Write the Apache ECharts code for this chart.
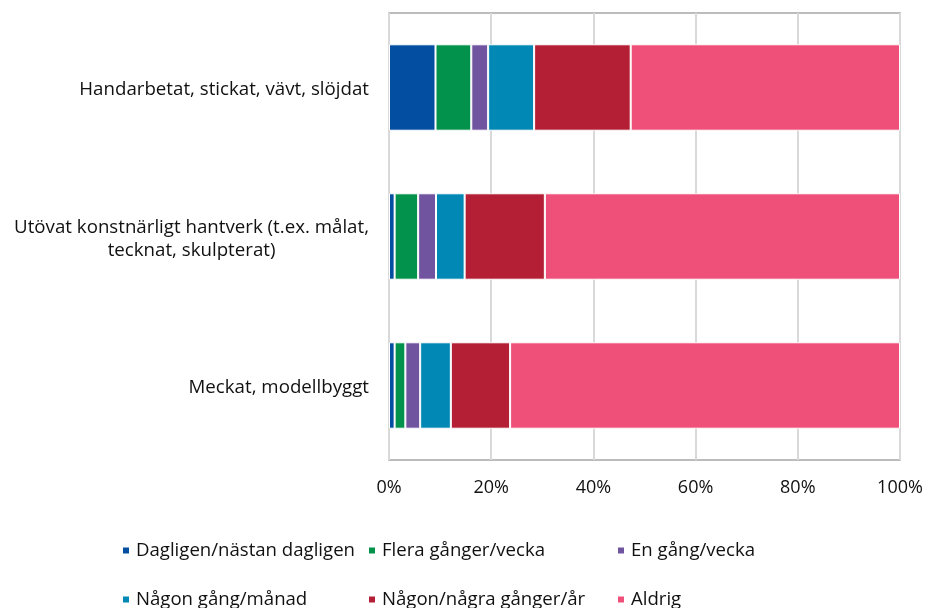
<!DOCTYPE html>
<html>
<head>
<meta charset="utf-8">
<script src="https://cdn.jsdelivr.net/npm/echarts@6/dist/echarts.min.js"></script>
<style>
  html, body { margin: 0; padding: 0; background: #fff; }
  #chart { width: 927px; height: 608px; }
</style>
</head>
<body>
<div id="chart"></div>
<script>
// kategorier (uppifrån och ned)
const categories = [
  "Handarbetat, stickat, vävt, slöjdat",
  "Utövat konstnärligt hantverk (t.ex. målat,\ntecknat, skulpterat)",
  "Meckat, modellbyggt"
]
// svarsalternativ
const seriesNames = [
  "Dagligen/nästan dagligen",
  "Flera gånger/vecka",
  "En gång/vecka",
  "Någon gång/månad",
  "Någon/några gånger/år",
  "Aldrig"
]
// andelar i procent, en rad per kategori
const dagligen = [9.1, 1.1, 1.1]
const fleraVecka = [7.0, 4.6, 2.1]
const enVecka = [3.3, 3.5, 2.9]
const manad = [9.0, 5.6, 6.0]
const ar = [18.9, 15.7, 11.6]
const aldrig = [52.7, 69.5, 76.3]
const xTicks = [0, 20, 40, 60, 80, 100]

const values = [dagligen, fleraVecka, enVecka, manad, ar, aldrig]
const colors = ["#044ea1", "#03924b", "#7054a0", "#0288b4", "#b41f35", "#ee5079"]

const font = "'Open Sans', 'Liberation Sans', sans-serif"
const textColor = "#111111"
const chart = echarts.init(document.getElementById("chart"))

// legend i två rader med tre kolumner
const legendCols = [116, 362, 611]
const legendRows = [536, 585]
const legends = seriesNames.map((name, i) => ({
  data: [name],
  left: legendCols[i % 3],
  top: legendRows[Math.floor(i / 3)],
  icon: "rect",
  itemWidth: 8,
  itemHeight: 8,
  itemGap: 0,
  selectedMode: false,
  textStyle: { fontFamily: font, fontSize: 18.6, color: textColor, padding: [0, 0, 0, 1] }
}))

const option = {
  animation: false,
  color: colors,
  legend: legends,
  grid: {
    left: 389,
    right: 27,
    top: 13,
    bottom: 148,
    show: true,
    borderColor: "#a6a6a6",
    borderWidth: 1.5
  },
  xAxis: {
    type: "value",
    min: 0,
    max: 100,
    interval: 20,
    axisLine: { show: false },
    axisTick: { show: false },
    axisLabel: {
      fontFamily: font,
      fontSize: 18,
      color: textColor,
      margin: 19,
      formatter: v => (xTicks.includes(v) ? v + "%" : "")
    },
    splitLine: { lineStyle: { color: "#d9d9d9", width: 2 } }
  },
  yAxis: {
    type: "category",
    data: categories,
    inverse: true,
    axisLine: { show: false },
    axisTick: { show: false },
    axisLabel: {
      margin: 20,
      align: "right",
      padding: [5, 0, 0, 0],
      // radbrutna etiketter centreras inom blocket, som i Excel
      formatter: v => v.split("\n").map(s => "{c|" + s + "}").join("\n"),
      rich: {
        c: {
          fontFamily: font,
          fontSize: 18.7,
          color: textColor,
          lineHeight: 23,
          align: "center"
        }
      }
    }
  },
  series: seriesNames.map((name, i) => ({
    name: name,
    type: "bar",
    stack: "total",
    barWidth: "58%",
    data: values[i],
    itemStyle: { color: colors[i], borderColor: "#ffffff", borderWidth: 1 }
  }))
}

chart.setOption(option)
</script>
</body>
</html>
